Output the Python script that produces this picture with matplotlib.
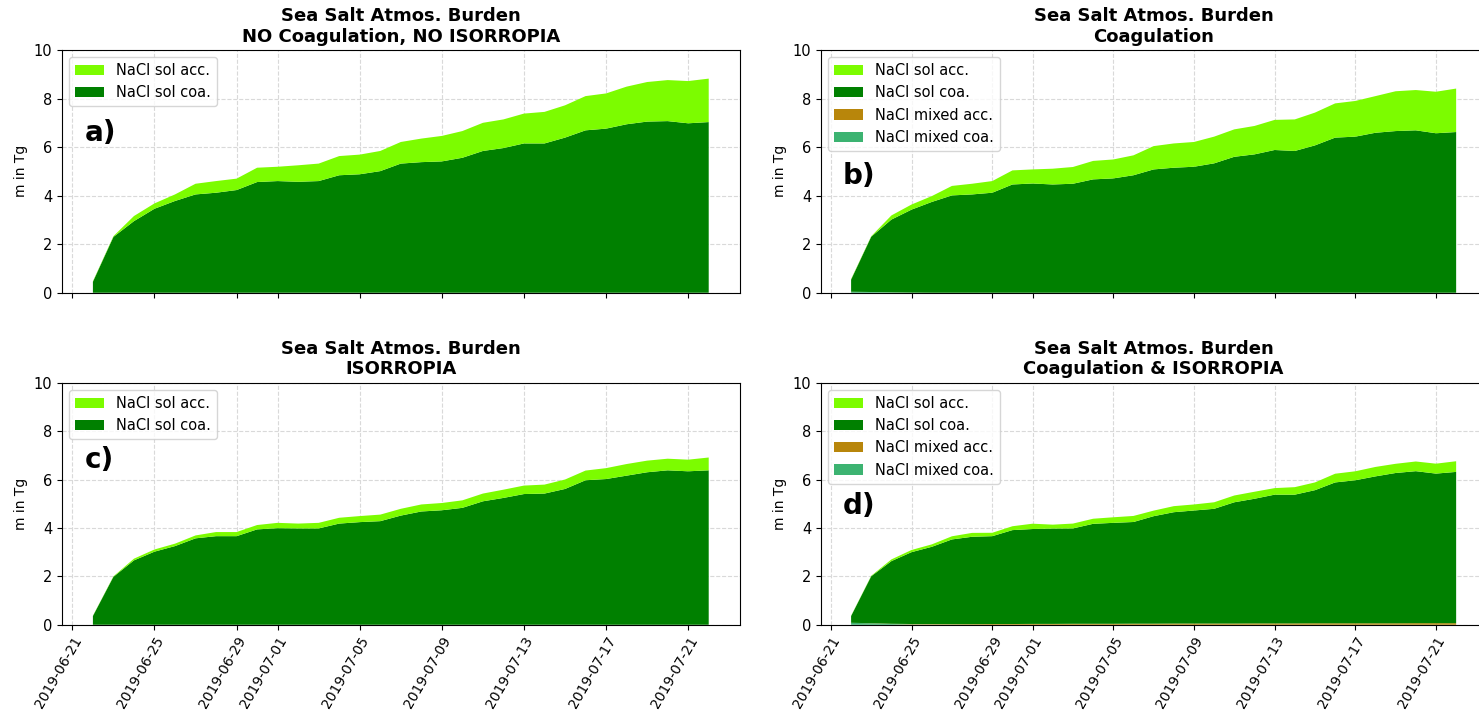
#!/usr/bin/env python3

import matplotlib
matplotlib.use('Agg')
import matplotlib.pyplot as plt
import matplotlib.dates as mdates
import numpy as np
import pandas as pd

plt.rc('font', size=10)
plt.rc('axes', titlesize=13)
plt.rc('axes', labelsize=10)
plt.rc('xtick', labelsize=10)
plt.rc('ytick', labelsize=10.5)
plt.rc('legend', fontsize=10.5)

dates = pd.date_range('2019-06-22', '2019-07-22', freq='D')

# a) NO Coagulation, NO ISORROPIA
a_sol_coa = [0.45, 2.30, 2.95, 3.46, 3.78, 4.05, 4.12, 4.23, 4.56, 4.60, 4.57,
             4.60, 4.84, 4.88, 5.01, 5.32, 5.38, 5.41, 5.56, 5.84, 5.96, 6.15,
             6.15, 6.39, 6.69, 6.76, 6.94, 7.05, 7.07, 6.98, 7.03]
a_sol_acc = [0.02, 0.03, 0.21, 0.22, 0.27, 0.44, 0.48, 0.47, 0.59, 0.59, 0.68,
             0.72, 0.79, 0.81, 0.83, 0.89, 0.97, 1.05, 1.10, 1.16, 1.18, 1.23,
             1.30, 1.33, 1.41, 1.45, 1.55, 1.63, 1.69, 1.74, 1.79]

# b) Coagulation
b_sol_coa = [0.50, 2.28, 3.00, 3.42, 3.74, 4.01, 4.05, 4.12, 4.46, 4.50, 4.46,
             4.49, 4.67, 4.71, 4.84, 5.08, 5.15, 5.19, 5.33, 5.60, 5.70, 5.88,
             5.84, 6.07, 6.39, 6.43, 6.59, 6.66, 6.69, 6.57, 6.62]
b_sol_acc = [0.02, 0.02, 0.17, 0.21, 0.24, 0.39, 0.44, 0.48, 0.58, 0.58, 0.65,
             0.69, 0.76, 0.78, 0.82, 0.96, 1.00, 1.02, 1.10, 1.13, 1.17, 1.24,
             1.30, 1.35, 1.41, 1.47, 1.51, 1.64, 1.66, 1.71, 1.79]
b_mix_acc = [0.0, 0.0, 0.0, 0.0, 0.0, 0.0, 0.0, 0.0, 0.0, 0.0, 0.0,
             0.0, 0.0, 0.0, 0.0, 0.0, 0.0, 0.0, 0.0, 0.0, 0.0, 0.0,
             0.0, 0.0, 0.0, 0.0, 0.0, 0.0, 0.0, 0.0, 0.0]
b_mix_coa = [0.04, 0.03, 0.015, 0.005, 0.0, 0.0, 0.0, 0.0, 0.0, 0.0, 0.0,
             0.0, 0.0, 0.0, 0.0, 0.0, 0.0, 0.0, 0.0, 0.0, 0.0, 0.0,
             0.0, 0.0, 0.0, 0.0, 0.0, 0.0, 0.0, 0.0, 0.0]

# c) ISORROPIA
c_sol_coa = [0.36, 1.98, 2.66, 3.02, 3.25, 3.57, 3.66, 3.66, 3.94, 3.99, 3.98,
             3.98, 4.18, 4.24, 4.28, 4.51, 4.68, 4.73, 4.83, 5.10, 5.24, 5.40,
             5.42, 5.61, 5.97, 6.02, 6.16, 6.30, 6.38, 6.34, 6.38]
c_sol_acc = [0.01, 0.02, 0.07, 0.09, 0.10, 0.12, 0.17, 0.17, 0.18, 0.22, 0.20,
             0.23, 0.24, 0.25, 0.27, 0.28, 0.29, 0.30, 0.31, 0.32, 0.34, 0.35,
             0.37, 0.39, 0.40, 0.45, 0.48, 0.48, 0.48, 0.48, 0.53]

# d) Coagulation & ISORROPIA
d_sol_coa = [0.28, 1.94, 2.59, 2.97, 3.19, 3.50, 3.61, 3.63, 3.88, 3.92, 3.94,
             3.94, 4.13, 4.17, 4.20, 4.44, 4.60, 4.67, 4.74, 5.01, 5.15, 5.32,
             5.32, 5.50, 5.82, 5.91, 6.07, 6.21, 6.28, 6.18, 6.25]
d_sol_acc = [0.01, 0.02, 0.07, 0.09, 0.10, 0.13, 0.16, 0.14, 0.16, 0.22, 0.16,
             0.20, 0.21, 0.23, 0.25, 0.23, 0.25, 0.25, 0.27, 0.28, 0.29, 0.27,
             0.31, 0.32, 0.36, 0.37, 0.39, 0.38, 0.40, 0.41, 0.44]
d_mix_acc = [0.0, 0.005, 0.01, 0.015, 0.02, 0.02, 0.025, 0.03, 0.03, 0.035, 0.035,
             0.04, 0.04, 0.04, 0.045, 0.045, 0.05, 0.05, 0.05, 0.05, 0.055, 0.055,
             0.055, 0.06, 0.06, 0.06, 0.06, 0.06, 0.065, 0.065, 0.065]
d_mix_coa = [0.08, 0.06, 0.03, 0.015, 0.01, 0.005, 0.0, 0.0, 0.0, 0.0, 0.0,
             0.0, 0.0, 0.0, 0.0, 0.0, 0.0, 0.0, 0.0, 0.0, 0.0, 0.0,
             0.0, 0.0, 0.0, 0.0, 0.0, 0.0, 0.0, 0.0, 0.0]

titles = ['Sea Salt Atmos. Burden\nNO Coagulation, NO ISORROPIA',
          'Sea Salt Atmos. Burden\nCoagulation',
          'Sea Salt Atmos. Burden\nISORROPIA',
          'Sea Salt Atmos. Burden\nCoagulation & ISORROPIA']
panel_labels = ['a)', 'b)', 'c)', 'd)']
label_y = [0.66, 0.48, 0.68, 0.49]

col_sol_acc = '#7CFC00'
col_sol_coa = '#008000'
col_mix_acc = '#B8860B'
col_mix_coa = '#3CB371'

fig = plt.figure(figsize=(14.79, 7.14), dpi=100)
positions = [[0.042, 0.590, 0.458, 0.340],
             [0.555, 0.590, 0.450, 0.340],
             [0.042, 0.125, 0.458, 0.339],
             [0.555, 0.125, 0.450, 0.339]]

panels = [
    (a_sol_acc, a_sol_coa, None, None),
    (b_sol_acc, b_sol_coa, b_mix_acc, b_mix_coa),
    (c_sol_acc, c_sol_coa, None, None),
    (d_sol_acc, d_sol_coa, d_mix_acc, d_mix_coa),
]

for i, (sol_acc, sol_coa, mix_acc, mix_coa) in enumerate(panels):
    ax = fig.add_axes(positions[i])
    ax.grid(which='major', linestyle='dashed', linewidth=0.8, color='#d9d9d9')
    ax.set_axisbelow(True)

    # stacked bottom to top, legend listed top to bottom
    if mix_acc is None:
        polys = ax.stackplot(dates, sol_coa, sol_acc,
                             colors=[col_sol_coa, col_sol_acc])
        handles = [polys[1], polys[0]]
        labels = ['NaCl sol acc.', 'NaCl sol coa.']
    else:
        polys = ax.stackplot(dates, mix_coa, mix_acc, sol_coa, sol_acc,
                             colors=[col_mix_coa, col_mix_acc, col_sol_coa, col_sol_acc])
        handles = [polys[3], polys[2], polys[1], polys[0]]
        labels = ['NaCl sol acc.', 'NaCl sol coa.', 'NaCl mixed acc.', 'NaCl mixed coa.']

    ax.legend(handles, labels, loc='upper left')
    ax.set_ylim(0, 10)
    ax.set_yticks(np.arange(0, 11, 2))
    ax.set_ylabel('m in Tg')
    ax.set_title(titles[i], fontweight='bold')
    ax.text(0.033, label_y[i], panel_labels[i], transform=ax.transAxes,
            fontsize=20, fontweight='bold', va='center')

    ax.xaxis.set_major_locator(mdates.DayLocator(bymonthday=[1, 5, 9, 13, 17, 21, 25, 29]))
    ax.xaxis.set_major_formatter(mdates.DateFormatter('%Y-%m-%d'))
    if i < 2:
        ax.tick_params(axis='x', labelbottom=False)
    else:
        plt.setp(ax.get_xticklabels(), rotation=60, ha='right', rotation_mode='anchor')

plt.savefig('out.png', dpi=100)
